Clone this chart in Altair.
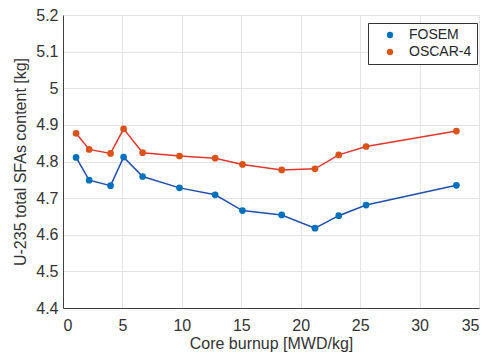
import altair as alt
import pandas as pd

burnup = [1.1, 2.2, 4.0, 5.1, 6.7, 9.8, 12.8, 15.1, 18.4, 21.2, 23.2, 25.5, 33.1]
fosem = [4.811, 4.749, 4.734, 4.812, 4.759, 4.728, 4.709, 4.666, 4.654, 4.618, 4.652, 4.681, 4.735]
oscar = [4.877, 4.833, 4.822, 4.889, 4.824, 4.815, 4.809, 4.792, 4.777, 4.780, 4.818, 4.841, 4.883]
series = ["FOSEM", "OSCAR-4"]
marker_colors = ["#0072BD", "#D95319"]
line_colors = ["#1f4faf", "#e6352b"]
x_ticks = [0, 5, 10, 15, 20, 25, 30, 35]
y_ticks = [4.4, 4.5, 4.6, 4.7, 4.8, 4.9, 5.0, 5.1, 5.2]

rows = []
for s, vals in zip(series, [fosem, oscar]):
    for b, v in zip(burnup, vals):
        rows.append({"burnup": b, "value": v, "series": s})
df = pd.DataFrame(rows)

font = "Liberation Sans"

x = alt.X("burnup:Q", scale=alt.Scale(domain=[0, 35], nice=False),
          axis=alt.Axis(values=x_ticks, title="Core burnup [MWD/kg]", format="~g"))
y = alt.Y("value:Q", scale=alt.Scale(domain=[4.4, 5.2], nice=False, zero=False),
          axis=alt.Axis(values=y_ticks, title="U-235 total SFAs content [kg]", format=".1~f"))

lines = alt.Chart(df).mark_line(strokeWidth=1.5).encode(
    x=x, y=y,
    color=alt.Color("series:N", scale=alt.Scale(domain=series, range=line_colors), legend=None),
)
points = alt.Chart(df).mark_point(filled=True, opacity=1, size=45).encode(
    x=x, y=y,
    color=alt.Color("series:N", scale=alt.Scale(domain=series, range=marker_colors),
                    legend=alt.Legend(title=None, orient="none", legendX=305, legendY=8,
                                      strokeColor="#333333", fillColor="white", padding=5,
                                      symbolOffset=10, symbolType="circle", symbolSize=40,
                                      labelFontSize=14, labelFont=font, labelColor="#262626",
                                      labelOffset=12, rowPadding=3)),
)

chart = alt.layer(lines, points).resolve_scale(color="independent").properties(
    width=416, height=293,
    autosize=alt.AutoSizeParams(type="none"),
    padding={"left": 55, "top": 7, "right": 2, "bottom": 44},
    background="white",
).configure_view(stroke="#d9d9d9", strokeWidth=1).configure_axis(
    labelFont=font, titleFont=font, labelFontSize=16, titleFontSize=16,
    labelColor="#333333", titleColor="#333333", titleFontWeight="normal",
    domainColor="#404040", domainWidth=1, ticks=False,
    gridColor="#e3e3e3", gridWidth=1,
).configure_axisY(labelPadding=5, titlePadding=7).configure_axisX(labelPadding=9, titlePadding=2)

chart.save("out.html", embed_options={"renderer": "svg", "actions": False})
